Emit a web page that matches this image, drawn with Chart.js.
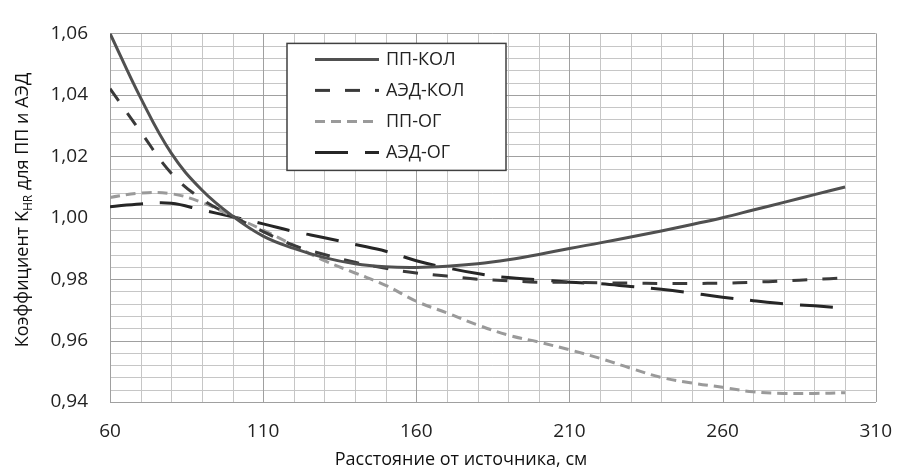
<!DOCTYPE html>
<html>
<head>
<meta charset="utf-8">
<script src="https://cdn.jsdelivr.net/npm/chart.js@4"></script>
<style>
  html, body { margin: 0; padding: 0; background: #fff; }
  #chart { display: block; }
</style>
</head>
<body>
<canvas id="chart" width="910" height="469"></canvas>
<script>
// расстояние, см
const distances = [60, 70, 80, 90, 100, 110, 120, 130, 140, 150, 160, 170, 180,
  190, 200, 210, 220, 230, 240, 250, 260, 270, 280, 290, 300];

const ppKol = [1.060, 1.039, 1.021, 1.009, 1.0005, 0.994, 0.990, 0.987, 0.985, 0.984,
  0.9838, 0.9842, 0.985, 0.9863, 0.988, 0.990, 0.9918, 0.9937, 0.9957, 0.9978,
  1.000, 1.0025, 1.005, 1.0075, 1.010];

const aedKol = [1.042, 1.028, 1.0145, 1.006, 1.0005, 0.9955, 0.991, 0.988, 0.9855, 0.9835,
  0.982, 0.981, 0.980, 0.9795, 0.979, 0.979, 0.9788, 0.9787, 0.9786, 0.9786,
  0.9787, 0.979, 0.9794, 0.9799, 0.9804];

const ppOg = [1.0066, 1.008, 1.0078, 1.005, 1.0005, 0.996, 0.991, 0.986, 0.982, 0.978,
  0.9728, 0.969, 0.9651, 0.9618, 0.9595, 0.957, 0.9542, 0.951, 0.948, 0.9462,
  0.9448, 0.9433, 0.9428, 0.9428, 0.943];

const aedOg = [1.0036, 1.0045, 1.0047, 1.0025, 1.0003, 0.998, 0.9955, 0.9935, 0.9913, 0.9891,
  0.986, 0.9837, 0.9818, 0.9805, 0.9798, 0.979, 0.9785, 0.9776, 0.9767, 0.9755,
  0.9741, 0.973, 0.972, 0.9713, 0.9705];

const seriesNames = ['ПП-КОЛ', 'АЭД-КОЛ', 'ПП-ОГ', 'АЭД-ОГ'];

// подписи делений
const xTickLabels = [60, 110, 160, 210, 260, 310];
const yTickLabels = [0.94, 0.96, 0.98, 1.00, 1.02, 1.04, 1.06];
const xMinorStep = 10;
const yMinorStep = 0.004;

const FONT = '"Open Sans", "Noto Sans", sans-serif';
const MAJOR = '#a0a0a0', MINOR = '#c6c6c6';

function pts(vals) {
  return distances.map((d, i) => ({ x: d, y: vals[i] }));
}

function line(label, vals, color, dash) {
  return {
    label,
    data: pts(vals),
    borderColor: color,
    borderWidth: 3,
    borderDash: dash,
    borderCapStyle: 'butt',
    pointRadius: 0,
    fill: false,
    tension: 0.4
  };
}

const datasets = [
  line(seriesNames[0], ppKol, '#505050', []),
  line(seriesNames[1], aedKol, '#3a3a3a', [15, 15]),
  line(seriesNames[2], ppOg, '#9a9a9a', [10, 6]),
  line(seriesNames[3], aedOg, '#262626', [33, 17])
];

// значения промежуточных линий сетки
function minorValues(labels, step) {
  const out = [];
  for (let i = 0; i < labels.length - 1; i++) {
    const n = Math.round((labels[i + 1] - labels[i]) / step);
    for (let k = 1; k < n; k++) out.push(labels[i] + k * step);
  }
  return out;
}

// сетка: мелкая и крупная
const gridLines = {
  id: 'gridLines',
  beforeDatasetsDraw(chart) {
    const c = chart.ctx, a = chart.chartArea;
    const sx = chart.scales.x, sy = chart.scales.y;
    c.save();
    c.lineWidth = 1;
    const vline = v => {
      const px = Math.round(sx.getPixelForValue(v)) + 0.5;
      c.beginPath(); c.moveTo(px, a.top); c.lineTo(px, a.bottom); c.stroke();
    };
    const hline = v => {
      const py = Math.round(sy.getPixelForValue(v)) + 0.5;
      c.beginPath(); c.moveTo(a.left, py); c.lineTo(a.right, py); c.stroke();
    };
    c.strokeStyle = MINOR;
    minorValues(xTickLabels, xMinorStep).forEach(vline);
    minorValues(yTickLabels, yMinorStep).forEach(hline);
    c.strokeStyle = MAJOR;
    xTickLabels.forEach(vline);
    yTickLabels.forEach(hline);
    c.restore();
  }
};

// легенда, подписи осей
const decor = {
  id: 'decor',
  afterDraw(chart) {
    const c = chart.ctx;
    const a = chart.chartArea;
    c.save();

    // легенда
    const bx = a.left + 177, by = a.top + 10, bw = 219, bh = 127;
    c.fillStyle = '#fff';
    c.fillRect(bx, by, bw, bh);
    c.strokeStyle = '#404040';
    c.lineWidth = 1.5;
    c.strokeRect(bx, by, bw, bh);
    c.font = '18px ' + FONT;
    c.textBaseline = 'middle';
    c.textAlign = 'left';
    chart.data.datasets.forEach((ds, i) => {
      const yy = by + 16 + i * 31;
      c.beginPath();
      c.setLineDash(ds.borderDash);
      c.strokeStyle = ds.borderColor;
      c.lineWidth = 3;
      c.moveTo(bx + 28, yy);
      c.lineTo(bx + 92, yy);
      c.stroke();
      c.setLineDash([]);
      c.fillStyle = '#222';
      c.fillText(ds.label, bx + 99, yy);
    });

    // ось X
    c.fillStyle = '#111';
    c.font = '18px ' + FONT;
    c.textAlign = 'center';
    c.textBaseline = 'alphabetic';
    c.fillText('Расстояние от источника, см', 461, 465);

    // ось Y, с индексом HR
    c.translate(28, 210);
    c.rotate(-Math.PI / 2);
    const p1 = 'Коэффициент K', sub = 'HR', p2 = ' для ПП и АЭД';
    c.font = '18px ' + FONT;
    const w1 = c.measureText(p1).width, w3 = c.measureText(p2).width;
    c.font = '12px ' + FONT;
    const w2 = c.measureText(sub).width;
    const x0 = -(w1 + w2 + w3) / 2;
    c.textAlign = 'left';
    c.font = '18px ' + FONT;
    c.fillText(p1, x0, 0);
    c.font = '12px ' + FONT;
    c.fillText(sub, x0 + w1, 4);
    c.font = '18px ' + FONT;
    c.fillText(p2, x0 + w1 + w2, 0);
    c.restore();
  }
};

new Chart(document.getElementById('chart'), {
  type: 'line',
  data: { datasets },
  options: {
    responsive: false,
    animation: false,
    devicePixelRatio: 1,
    layout: { padding: { left: 0, top: 18, right: 23, bottom: 0 } },
    plugins: { legend: { display: false }, tooltip: { enabled: false } },
    scales: {
      x: {
        type: 'linear',
        min: xTickLabels[0],
        max: xTickLabels[xTickLabels.length - 1],
        afterBuildTicks: s => { s.ticks = xTickLabels.map(v => ({ value: v })); },
        afterFit: s => { s.height = 67; },
        border: { display: true, color: MAJOR, width: 1 },
        grid: { display: false, drawTicks: false },
        ticks: {
          autoSkip: false,
          maxRotation: 0,
          padding: 18,
          color: '#222',
          font: { family: FONT, size: 19 },
          callback: v => String(v)
        }
      },
      y: {
        min: yTickLabels[0],
        max: yTickLabels[yTickLabels.length - 1],
        afterBuildTicks: s => { s.ticks = yTickLabels.map(v => ({ value: v })); },
        afterFit: s => { s.width = 110; },
        border: { display: true, color: MAJOR, width: 1 },
        grid: { display: false, drawTicks: false },
        ticks: {
          autoSkip: false,
          padding: 22,
          color: '#222',
          font: { family: FONT, size: 19 },
          callback: v => v.toFixed(2).replace('.', ',')
        }
      }
    }
  },
  plugins: [gridLines, decor]
});
</script>
</body>
</html>
